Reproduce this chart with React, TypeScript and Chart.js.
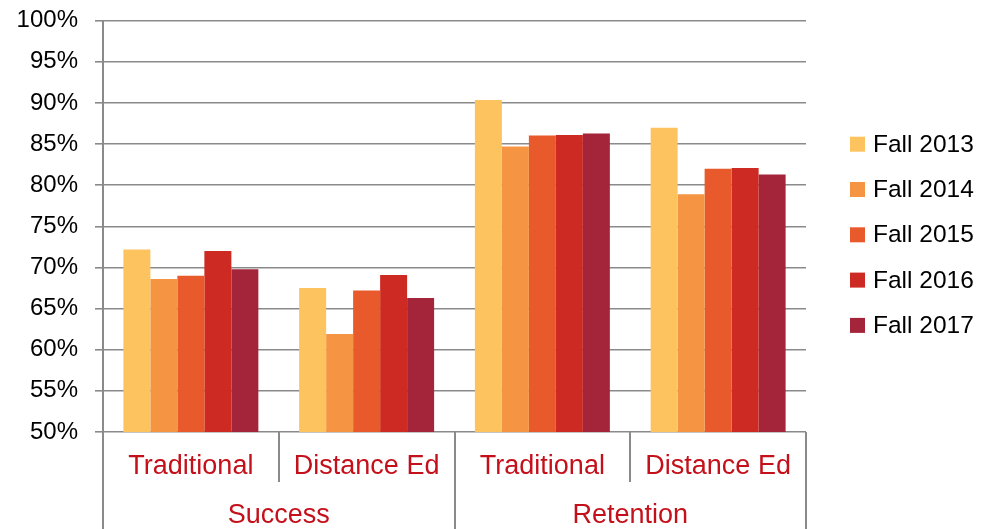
import React, { useEffect, useRef } from "react";
import { Chart, registerables } from "chart.js";

Chart.register(...registerables);

const subCategories = ["Traditional", "Distance Ed", "Traditional", "Distance Ed"];
const mainCategories = ["Success", "Retention"];
const seriesLabels = ["Fall 2013", "Fall 2014", "Fall 2015", "Fall 2016", "Fall 2017"];
const seriesColors = ["#FDC35E", "#F59443", "#E8592B", "#CC2A22", "#A4253A"];

const fall2013 = [72.2, 67.5, 90.35, 87.0];
const fall2014 = [68.6, 61.9, 84.7, 78.9];
const fall2015 = [69.0, 67.2, 86.05, 82.0];
const fall2016 = [72.0, 69.1, 86.1, 82.1];
const fall2017 = [69.8, 66.3, 86.3, 81.3];

const seriesValues = [fall2013, fall2014, fall2015, fall2016, fall2017];

const yMin = 50;
const yMax = 100;
const yStep = 5;

const AXIS_COLOR = "#8a8a8a";
const LABEL_RED = "#C4101A";
const FONT = "'Liberation Sans', Arial, Helvetica, sans-serif";

const multiLevelAxis = {
  id: "multiLevelAxis",
  afterDraw(chart: any) {
    const { ctx, chartArea, scales } = chart;
    const x = scales.x;
    const H = chart.height;
    const bottom = chartArea.bottom;
    const n = subCategories.length;
    const half = (x.getPixelForValue(1) - x.getPixelForValue(0)) / 2;
    ctx.save();
    ctx.strokeStyle = AXIS_COLOR;
    ctx.lineWidth = 2;
    for (let i = 0; i <= n; i++) {
      const px = i < n ? x.getPixelForValue(i) - half : x.getPixelForValue(n - 1) + half;
      const full = i % 2 === 0;
      ctx.beginPath();
      ctx.moveTo(Math.round(px), bottom);
      ctx.lineTo(Math.round(px), full ? H : bottom + 50);
      ctx.stroke();
    }
    ctx.fillStyle = LABEL_RED;
    ctx.font = `27px ${FONT}`;
    ctx.textAlign = "center";
    ctx.textBaseline = "alphabetic";
    for (let i = 0; i < n; i++) {
      ctx.fillText(subCategories[i], x.getPixelForValue(i), bottom + 42);
    }
    const per = n / mainCategories.length;
    for (let g = 0; g < mainCategories.length; g++) {
      const a = x.getPixelForValue(g * per) - half;
      const b = x.getPixelForValue(g * per + per - 1) + half;
      ctx.fillText(mainCategories[g], (a + b) / 2, bottom + 91);
    }
    ctx.textAlign = "left";
    ctx.font = `24.5px ${FONT}`;
    const lx = chartArea.right + 44;
    const top0 = 136.7;
    const gap = 45.3;
    chart.data.datasets.forEach((ds: any, i: number) => {
      const ty = top0 + i * gap;
      ctx.fillStyle = ds.backgroundColor;
      ctx.fillRect(lx, ty, 15, 15);
      ctx.fillStyle = "#000";
      ctx.fillText(ds.label, lx + 23, ty + 15);
    });
    ctx.restore();
  },
};

export default function App() {
  const ref = useRef<HTMLCanvasElement | null>(null);
  useEffect(() => {
    if (!ref.current) return;
    const chart = new Chart(ref.current, {
      type: "bar",
      data: {
        labels: subCategories,
        datasets: seriesLabels.map((label, i) => ({
          label,
          data: seriesValues[i],
          backgroundColor: seriesColors[i],
          borderWidth: 0,
          categoryPercentage: 0.768,
          barPercentage: 1,
        })),
      },
      options: {
        responsive: false,
        animation: false,
        devicePixelRatio: 1,
        layout: { padding: { top: 20.7, right: 177, bottom: 97, left: 0 } },
        plugins: {
          legend: { display: false },
          tooltip: { enabled: false },
        },
        scales: {
          x: {
            display: false,
            offset: true,
          },
          y: {
            min: yMin,
            max: yMax,
            afterFit: (scale: any) => {
              scale.width = 103;
              scale.paddingTop = 0;
              scale.paddingBottom = 0;
            },
            ticks: {
              stepSize: yStep,
              color: "#000",
              padding: 17,
              font: { family: FONT, size: 24 },
              callback: (v: any) => `${v}%`,
            },
            grid: {
              color: AXIS_COLOR,
              lineWidth: 1.6,
              tickLength: 8,
            },
            border: { display: true, color: AXIS_COLOR, width: 2 },
          },
        },
      },
      plugins: [multiLevelAxis],
    });
    return () => chart.destroy();
  }, []);
  return (
    <div style={{ position: "fixed", left: 0, top: 0, width: 983, height: 529, background: "#fff" }}>
      <canvas ref={ref} width={983} height={529} />
    </div>
  );
}
